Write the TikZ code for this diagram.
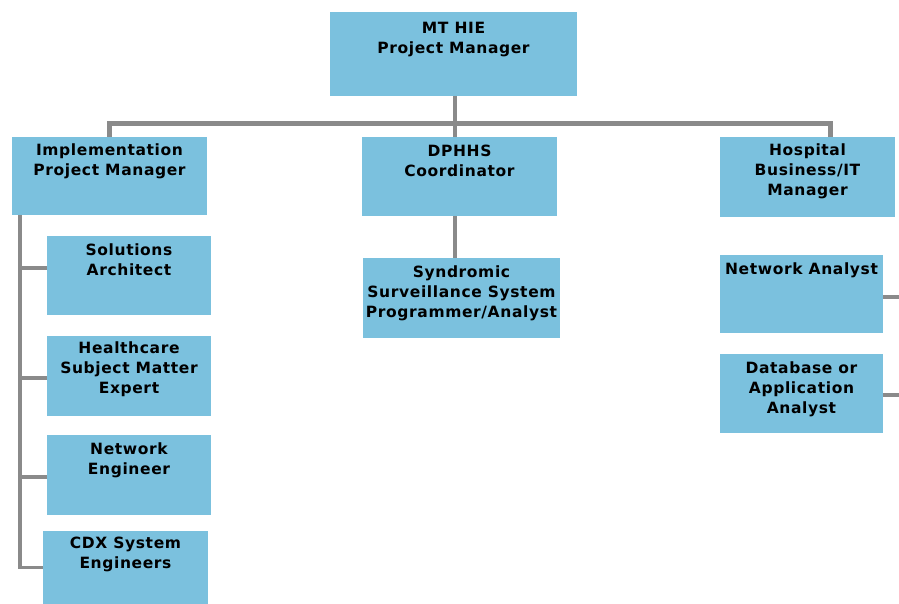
\documentclass[tikz,border=0pt]{standalone}
\usepackage{xcolor}
\usepackage{fontspec}
\setmainfont[LetterSpace=4]{DejaVu Sans}
\usepackage{tikz}
\usetikzlibrary{positioning,calc}

\definecolor{boxblue}{HTML}{7BC1DE}
\definecolor{linegray}{HTML}{8A8A8A}

\begin{document}
\begin{tikzpicture}[
  x=1pt, y=-1pt,
  orgbox/.style={fill=boxblue, draw=none, rectangle, outer sep=0pt, inner sep=0pt},
  title/.style={anchor=north, yshift=-8pt, inner sep=0pt, align=center,
    font=\fontsize{15.5}{20}\selectfont\bfseries},
  conn/.style={draw=linegray, line width=3.5pt},
  bar/.style={conn, line width=5pt}
]
\useasboundingbox (0,0) rectangle (899,604);
% top level
\node[orgbox, minimum width=247pt, minimum height=84pt,
  label={[title, yshift=-2pt]north:{MT HIE\\Project Manager}}] (top) at (453.5,54) {};
% second level
\node[orgbox, minimum width=195pt, minimum height=78pt,
  label={[title, yshift=1pt]north:{Implementation\\Project Manager}}] (impl) at (109.5,176) {};
\node[orgbox, minimum width=195pt, minimum height=79pt,
  label={[title]north:{DPHHS\\Coordinator}}] (dphhs) at (459.5,176.5) {};
\node[orgbox, minimum width=175pt, minimum height=80pt,
  label={[title, yshift=1pt]north:{Hospital\\Business/IT\\Manager}}] (hosp) at (807.5,177) {};
% implementation team
\node[orgbox, minimum width=164pt, minimum height=79pt,
  label={[title]north:{Solutions\\Architect}}] (sol) at (129,275.5) {};
\node[orgbox, minimum width=164pt, minimum height=80pt,
  label={[title, yshift=2pt]north:{Healthcare\\Subject Matter\\Expert}}] (health) at (129,376) {};
\node[orgbox, minimum width=164pt, minimum height=80pt,
  label={[title]north:{Network\\Engineer}}] (neteng) at (129,475) {};
\node[orgbox, minimum width=165pt, minimum height=73pt,
  label={[title, yshift=2pt]north:{CDX System\\Engineers}}] (cdx) at (125.5,567.5) {};
% DPHHS team
\node[orgbox, minimum width=197pt, minimum height=80pt,
  label={[title]north:{Syndromic\\Surveillance System\\Programmer/Analyst}}] (synd) at (461.5,298) {};
% hospital team
\node[orgbox, minimum width=163pt, minimum height=78pt,
  label={[title]north:{Network Analyst}}] (netan) at (801.5,294) {};
\node[orgbox, minimum width=163pt, minimum height=79pt,
  label={[title]north:{Database or\\Application\\Analyst}}] (db) at (801.5,393.5) {};

% connectors
\coordinate (hub) at (455,124);
\coordinate (spine) at ([xshift=8pt]impl.south west);
\coordinate (edge) at (899,0);
\draw[bar] (impl.north) |- (hub) -| ([xshift=22.5pt]hosp.north);
\draw[conn] ([xshift=1.5pt]top.south) -- (hub);
\draw[conn] (hub) -- (hub |- dphhs.north);
\draw[conn] (hub |- dphhs.south) -- (hub |- synd.north);
\draw[conn] (spine) |- (cdx.west);
\draw[conn] ([yshift=7.5pt]sol.west) -- ([yshift=7.5pt]sol.west -| spine);
\draw[conn] ([yshift=-2pt]health.west) -- ([yshift=-2pt]health.west -| spine);
\draw[conn] ([yshift=-2pt]neteng.west) -- ([yshift=-2pt]neteng.west -| spine);
\draw[conn] ([yshift=-3pt]netan.east) -- ([yshift=-3pt]netan.east -| edge);
\draw[conn] ([yshift=-1.5pt]db.east) -- ([yshift=-1.5pt]db.east -| edge);
\end{tikzpicture}
\end{document}
